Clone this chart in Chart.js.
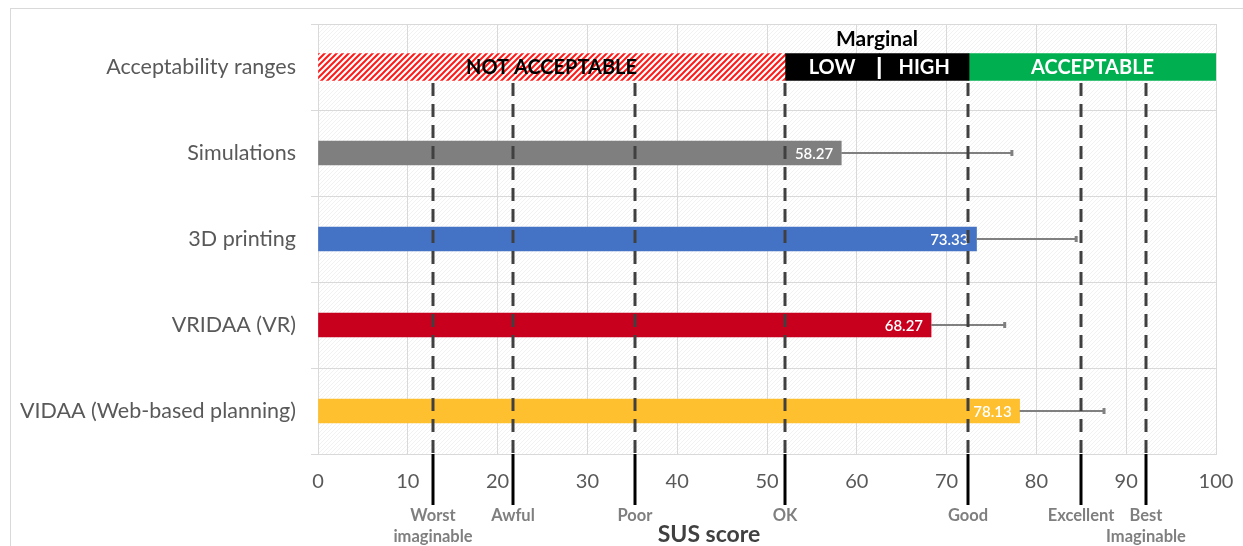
<!DOCTYPE html>
<html>
<head>
<meta charset="utf-8">
<script src="https://cdn.jsdelivr.net/npm/chart.js@4"></script>
<style>
  body { margin: 0; background: #fff; }
</style>
</head>
<body>
<canvas id="susChart" width="1243" height="546"></canvas>
<script>
// categories and values
const categories = ["Acceptability ranges", "Simulations", "3D printing", "VRIDAA (VR)", "VIDAA (Web-based planning)"];
const susScores = [null, 58.27, 73.33, 68.27, 78.13];
const susErrors = [null, 19.0, 11.1, 8.2, 9.4];
const barColors = [null, "#7f7f7f", "#4472c4", "#c8001e", "#ffc030"];
const xTicks = [0, 10, 20, 30, 40, 50, 60, 70, 80, 90, 100];

// acceptability bands (first row)
const bandLabels = ["NOT ACCEPTABLE", "LOW", "HIGH", "ACCEPTABLE"];
const bandStarts = [0, 52, 62.5, 72.5];
const bandEnds = [52, 62.5, 72.5, 100];
const marginalLabel = "Marginal";

// adjective rating lines
const adjectiveLabels = [["Worst", "imaginable"], ["Awful"], ["Poor"], ["OK"], ["Good"], ["Excellent"], ["Best", "Imaginable"]];
const adjectivePositions = [12.8, 21.7, 35.3, 52, 72.4, 85, 92.2];

const FONT = "Lato, 'Open Sans', sans-serif";

// diagonal hatch tiles
function makeHatch(bg, fg, size, width) {
    const c = document.createElement("canvas");
    c.width = size; c.height = size;
    const g = c.getContext("2d");
    g.fillStyle = bg;
    g.fillRect(0, 0, size, size);
    g.strokeStyle = fg;
    g.lineWidth = width;
    g.beginPath();
    g.moveTo(-1, size + 1); g.lineTo(size + 1, -1);
    g.moveTo(-1, 1); g.lineTo(1, -1);
    g.moveTo(size - 1, size + 1); g.lineTo(size + 1, size - 1);
    g.stroke();
    return g.createPattern(c, "repeat");
}

const ctx = document.getElementById("susChart").getContext("2d");
const redHatch = makeHatch("#ffffff", "#ff1a1a", 6, 2);
const plotHatch = makeHatch("#ffffff", "#f2f2f2", 4, 1);
const bandColors = [redHatch, "#000000", "#000000", "#00b050"];
const bandTextColors = ["#000000", "#ffffff", "#ffffff", "#ffffff"];

const bandDatasets = bandLabels.map((lbl, i) => ({
    label: lbl,
    data: categories.map((c, k) => k === 0 ? [bandStarts[i], bandEnds[i]] : null),
    backgroundColor: bandColors[i],
    grouped: false,
    barThickness: 27
}));

const decorPlugin = {
    id: "decor",
    beforeDraw(chart) {
        const g = chart.ctx;
        const a = chart.chartArea;
        g.save();
        g.fillStyle = "#ffffff";
        g.fillRect(0, 0, chart.width, chart.height);
        g.strokeStyle = "#d9d9d9";
        g.lineWidth = 1;
        g.strokeRect(10.5, 8.5, chart.width + 20, chart.height + 20);
        g.fillStyle = plotHatch;
        g.fillRect(a.left, a.top, a.right - a.left, a.bottom - a.top);
        g.restore();
    },
    afterDatasetsDraw(chart) {
        const g = chart.ctx;
        const a = chart.chartArea;
        const xs = chart.scales.x;
        const ys = chart.scales.y;
        g.save();

        // error bars (plus side only)
        g.strokeStyle = "#808080";
        susScores.forEach((v, i) => {
            if (v == null) return;
            const y = ys.getPixelForValue(i);
            const x0 = xs.getPixelForValue(v);
            const x1 = xs.getPixelForValue(v + susErrors[i]);
            g.lineWidth = 2;
            g.beginPath();
            g.moveTo(x0, y); g.lineTo(x1, y);
            g.stroke();
            g.lineWidth = 3;
            g.beginPath();
            g.moveTo(x1, y - 3); g.lineTo(x1, y + 3);
            g.stroke();
        });

        // value labels inside bar ends
        g.font = "600 15px " + FONT;
        g.fillStyle = "#ffffff";
        g.textAlign = "right";
        g.textBaseline = "middle";
        susScores.forEach((v, i) => {
            if (v == null) return;
            g.fillText(v.toFixed(2), xs.getPixelForValue(v) - 8, ys.getPixelForValue(i) + 1);
        });

        // band labels
        const yb = ys.getPixelForValue(0);
        g.textAlign = "center";
        g.font = "bold 20px " + FONT;
        bandLabels.forEach((lbl, i) => {
            const xc = (xs.getPixelForValue(bandStarts[i]) + xs.getPixelForValue(bandEnds[i])) / 2;
            g.fillStyle = bandTextColors[i];
            g.fillText(lbl, xc, yb + 1);
        });
        // divider between LOW and HIGH
        g.strokeStyle = "#ffffff";
        g.lineWidth = 3;
        g.beginPath();
        g.moveTo(xs.getPixelForValue(bandEnds[1]), yb - 10);
        g.lineTo(xs.getPixelForValue(bandEnds[1]), yb + 12);
        g.stroke();
        g.font = "bold 21px " + FONT;
        g.fillStyle = "#000000";
        g.fillText(marginalLabel,
            (xs.getPixelForValue(bandStarts[1]) + xs.getPixelForValue(bandEnds[2])) / 2, yb - 28);

        // adjective lines: dashed in the plot, solid below the axis
        const dashTop = yb + 16;
        adjectivePositions.forEach((p, i) => {
            const x = Math.round(xs.getPixelForValue(p));
            g.strokeStyle = "#404040";
            g.lineWidth = 3;
            g.setLineDash([13, 8]);
            g.beginPath();
            g.moveTo(x, dashTop); g.lineTo(x, a.bottom);
            g.stroke();
            g.setLineDash([]);
            g.strokeStyle = "#000000";
            g.beginPath();
            g.moveTo(x, a.bottom); g.lineTo(x, a.bottom + 51);
            g.stroke();
            g.font = "bold 16.5px " + FONT;
            g.fillStyle = "#7f7f7f";
            adjectiveLabels[i].forEach((t, k) => g.fillText(t, x, a.bottom + 62 + k * 21));
        });

        // axis title
        g.font = "bold 23px " + FONT;
        g.fillStyle = "#404040";
        g.fillText("SUS score", 709, 535);
        g.restore();
    }
};

new Chart(ctx, {
    type: "bar",
    data: {
        labels: categories,
        datasets: [
            {
                label: "SUS score",
                data: susScores,
                backgroundColor: barColors,
                grouped: false,
                barThickness: 24
            },
            ...bandDatasets
        ]
    },
    options: {
        indexAxis: "y",
        responsive: false,
        animation: false,
        layout: { padding: { top: 24, right: 27, left: 0, bottom: 0 } },
        plugins: {
            legend: { display: false },
            tooltip: { enabled: false }
        },
        scales: {
            x: {
                min: 0,
                max: 100,
                afterBuildTicks: scale => { scale.ticks = xTicks.map(v => ({ value: v })); },
                afterFit: scale => {
                    scale.height = 92;
                    scale.paddingLeft = 0;
                    scale.paddingRight = 0;
                },
                grid: { color: "#d9d9d9", drawTicks: false },
                border: { color: "#d9d9d9" },
                ticks: { color: "#595959", padding: 16, font: { family: FONT, size: 20 } }
            },
            y: {
                afterFit: scale => {
                    scale.width = 318;
                    scale.paddingTop = 0;
                    scale.paddingBottom = 0;
                },
                grid: { color: "#d9d9d9", tickLength: 7 },
                border: { color: "#d9d9d9" },
                ticks: { color: "#595959", padding: 15, font: { family: FONT, size: 21.5 } }
            }
        }
    },
    plugins: [decorPlugin]
});
</script>
</body>
</html>
